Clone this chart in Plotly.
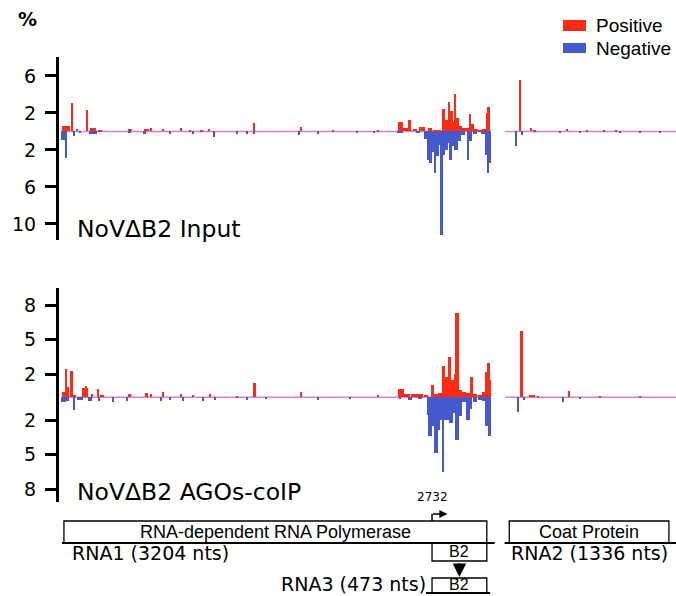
import plotly.graph_objects as go

W, H = 676, 596
RNA1_LEN = 3204
RNA2_LEN = 1336
RNA2_OFFSET = 3338          # where RNA2 track starts on the shared x axis (nt units)
X_RANGE = [-22, 4596]

RED = "#ff2a14"
BLUE = "#4559cf"

# ---------------- Input library (top panel) ----------------
# positive strand, RNA1
in_pos_r1_nt = [30, 75, 112, 187, 232, 284, 509, 636, 666, 756, 891, 958, 1048, 1100, 1437, 1789, 2028, 2365,
                2534, 2567, 2601, 2642, 2695, 2754, 2807, 2859, 2878, 2897, 2915, 2927, 2942, 2960, 2979, 3001,
                3031, 3054, 3073, 3099, 3129, 3159, 3181, 3192, 3200]
in_pos_r1_w = [60, 20, 15, 16, 45, 30, 30, 37, 15, 15, 22, 15, 22, 15, 19, 19, 15, 15,
               40, 40, 24, 36, 50, 30, 60, 22, 18, 22, 18, 14, 22, 18, 26, 26,
               26, 22, 18, 32, 26, 26, 17, 17, 12]
in_pos_r1_val = [0.6, 3.1, 0.3, 2.3, 0.4, 0.15, 0.3, 0.25, 0.4, 0.25, 0.4, 0.2, 0.2, 0.25, 0.9, 0.5, 0.15, 0.2,
                 1.0, 0.4, 1.25, 0.3, 0.5, 0.4, 0.2, 2.4, 1.2, 3.2, 2.2, 1.0, 4.1, 1.5, 0.6, 0.4,
                 0.4, 1.9, 0.8, 0.3, 0.2, 0.3, 2.0, 2.7, 1.6]
# positive strand, RNA2
in_pos_r2_nt = [90, 172, 202, 445, 591, 719, 808]
in_pos_r2_w = [19, 19, 22, 15, 15, 15, 15]
in_pos_r2_val = [5.6, 0.4, 0.1, 0.3, 0.12, 0.12, 0.08]
# negative strand, RNA1
in_neg_r1_nt = [15, 30, 90, 135, 232, 509, 621, 808, 981, 1138, 1310, 1385, 1437, 1774, 1916, 2208, 2335,
                2530, 2665, 2725, 2743, 2762, 2777, 2792, 2811, 2826, 2841, 2856, 2874, 2897, 2908, 2927,
                2949, 2972, 3001, 3039, 3057, 3091, 3151, 3174, 3189, 3200]
in_neg_r1_w = [37, 15, 15, 22, 60, 22, 22, 15, 15, 15, 15, 15, 15, 15, 15, 15, 15,
               45, 34, 26, 22, 22, 18, 22, 22, 14, 17, 18, 26, 18, 18, 26,
               26, 26, 34, 18, 26, 34, 34, 22, 17, 17]
in_neg_r1_val = [0.9, 2.9, 0.5, 0.2, 0.3, 0.2, 0.3, 0.3, 0.3, 0.6, 0.3, 0.3, 0.3, 0.4, 0.25, 0.2, 0.2,
                 0.2, 0.2, 0.8, 3.1, 3.4, 2.2, 4.5, 2.7, 1.5, 11.2, 2.5, 2.0, 1.2, 3.1, 1.6,
                 2.0, 1.0, 0.4, 3.1, 1.0, 0.3, 0.3, 2.5, 4.5, 3.4]
# negative strand, RNA2
in_neg_r2_nt = [60, 105, 389, 539, 838, 988, 1138]
in_neg_r2_w = [15, 15, 15, 15, 15, 15, 15]
in_neg_r2_val = [1.6, 0.4, 0.1, 0.1, 0.1, 0.1, 0.1]

# ---------------- AGOs-coIP library (bottom panel) ----------------
ip_pos_r1_nt = [15, 30, 49, 71, 97, 172, 180, 225, 269, 299, 509, 636, 666, 756, 891, 981, 1108, 1310, 1441,
                1789, 2365, 2537, 2582, 2635, 2680, 2725, 2773, 2799, 2829, 2859, 2878, 2900, 2923, 2942,
                2957, 2979, 3009, 3039, 3065, 3091, 3129, 3159, 3177, 3192, 3200]
ip_pos_r1_w = [22, 19, 15, 19, 22, 45, 15, 22, 15, 30, 22, 22, 15, 15, 22, 15, 22, 15, 19,
               19, 15, 40, 50, 50, 50, 34, 26, 34, 34, 22, 18, 26, 26, 18,
               24, 26, 34, 26, 22, 34, 34, 26, 17, 17, 17]
ip_pos_r1_val = [0.5, 2.5, 0.9, 2.3, 0.2, 0.8, 1.0, 0.3, 0.7, 0.2, 0.3, 0.35, 0.3, 0.45, 0.3, 0.2, 0.25, 0.15, 1.2,
                 0.45, 0.2, 0.7, 0.3, 0.3, 0.3, 0.2, 1.1, 0.3, 0.4, 2.7, 1.8, 3.5, 1.5, 2.0,
                 7.3, 0.6, 0.5, 0.4, 1.8, 0.3, 0.2, 0.5, 2.2, 3.0, 1.5]
ip_pos_r2_nt = [101, 180, 225, 457, 689, 988]
ip_pos_r2_w = [19, 45, 22, 19, 15, 15]
ip_pos_r2_val = [5.8, 0.2, 0.15, 0.55, 0.1, 0.08]
ip_neg_r1_nt = [15, 45, 90, 135, 210, 277, 382, 487, 741, 808, 906, 1055, 1145, 1385, 1527, 1916, 2156,
                2530, 2605, 2680, 2740, 2754, 2777, 2799, 2818, 2833, 2852, 2871, 2889, 2912, 2934, 2957,
                2983, 3009, 3039, 3061, 3091, 3129, 3159, 3177, 3189, 3200]
ip_neg_r1_w = [37, 22, 15, 45, 30, 15, 15, 15, 15, 15, 15, 15, 15, 15, 15, 15, 15,
               15, 34, 34, 18, 26, 18, 26, 18, 18, 22, 18, 22, 26, 18, 34,
               18, 26, 26, 18, 26, 26, 26, 17, 17, 17]
ip_neg_r1_val = [0.4, 0.3, 1.1, 0.2, 0.3, 0.3, 0.45, 0.3, 0.35, 0.25, 0.3, 0.3, 0.2, 0.2, 0.15, 0.2, 0.1,
                 0.15, 0.2, 0.15, 1.5, 3.4, 2.5, 4.8, 2.8, 2.0, 6.5, 2.0, 2.0, 2.2, 1.4, 3.7,
                 1.6, 0.4, 2.0, 1.0, 0.4, 0.2, 0.3, 2.5, 2.0, 3.4]
ip_neg_r2_nt = [75, 120, 412, 539]
ip_neg_r2_w = [19, 15, 15, 15]
ip_neg_r2_val = [1.3, 0.2, 0.4, 0.08]

# axis ticks
top_tickvals = [6, 2, -2, -6, -10]
top_ticktext = ["6", "2", "2", "6", "10"]
top_range = [-11.73, 8.05]
bot_tickvals = [8, 5, 2, -2, -5, -8]
bot_ticktext = ["8", "5", "2", "2", "5", "8"]
bot_range = [-9.10, 9.50]

# genome map (nt units on the shared axis)
RDRP_BOX = (15, 3180)
B2_BOX = (2770, 3180)
CP_BOX = (10, 1205)  # RNA2 coordinates
B2_START_LABEL = "2732"


def px_x(v):
    return v / W


def px_y(v):
    return 1 - v / H


def shift(lst, off):
    return [p + off for p in lst]


fig = go.Figure()


def add_bars(pos, w, val, color, sign, xa, ya):
    fig.add_trace(go.Bar(x=pos, y=[sign * v for v in val], width=w, marker=dict(color=color, line=dict(width=0)),
                         xaxis=xa, yaxis=ya, showlegend=False, hoverinfo="skip"))


# top panel
add_bars(in_neg_r1_nt + shift(in_neg_r2_nt, RNA2_OFFSET), in_neg_r1_w + in_neg_r2_w,
         in_neg_r1_val + in_neg_r2_val, BLUE, -1, "x", "y")
add_bars(in_pos_r1_nt + shift(in_pos_r2_nt, RNA2_OFFSET), in_pos_r1_w + in_pos_r2_w,
         in_pos_r1_val + in_pos_r2_val, RED, 1, "x", "y")
# bottom panel
add_bars(ip_neg_r1_nt + shift(ip_neg_r2_nt, RNA2_OFFSET), ip_neg_r1_w + ip_neg_r2_w,
         ip_neg_r1_val + ip_neg_r2_val, BLUE, -1, "x2", "y2")
add_bars(ip_pos_r1_nt + shift(ip_pos_r2_nt, RNA2_OFFSET), ip_pos_r1_w + ip_pos_r2_w,
         ip_pos_r1_val + ip_pos_r2_val, RED, 1, "x2", "y2")

tickfont = dict(family="DejaVu Sans", size=19, color="black")
yax_common = dict(showline=True, linewidth=3, linecolor="black", ticks="outside", ticklen=11, tickwidth=3,
                  tickcolor="black", showgrid=False, zeroline=False, tickfont=tickfont, ticklabelstandoff=5,
                  fixedrange=True)
xax_common = dict(visible=False, range=X_RANGE, domain=[px_x(59), 1], showgrid=False, zeroline=False)

fig.update_layout(
    width=W, height=H, autosize=False,
    margin=dict(l=0, r=0, t=0, b=0),
    paper_bgcolor="white", plot_bgcolor="white",
    barmode="overlay", bargap=0,
    xaxis=dict(**xax_common, anchor="y"),
    xaxis2=dict(**xax_common, anchor="y2"),
    yaxis=dict(**yax_common, domain=[px_y(240), px_y(57)], range=top_range,
               tickmode="array", tickvals=top_tickvals, ticktext=top_ticktext, anchor="x"),
    yaxis2=dict(**yax_common, domain=[px_y(502), px_y(288)], range=bot_range,
                tickmode="array", tickvals=bot_tickvals, ticktext=bot_ticktext, anchor="x2"),
)

shapes = []
# zero baselines
for xa, ya in (("x", "y"), ("x2", "y2")):
    shapes.append(dict(type="line", xref=xa, yref=ya, x0=0, x1=RNA1_LEN, y0=0, y1=0,
                       line=dict(color="rgba(205,110,190,0.85)", width=1.5), layer="below"))
    shapes.append(dict(type="line", xref=xa, yref=ya, x0=RNA2_OFFSET - 20, x1=RNA2_OFFSET + RNA2_LEN, y0=0, y1=0,
                       line=dict(color="rgba(205,110,190,0.85)", width=1.5), layer="below"))

# genome map
LW = 1.3
shapes.append(dict(type="rect", xref="x2", yref="paper", x0=RDRP_BOX[0], x1=RDRP_BOX[1],
                   y0=px_y(543), y1=px_y(521), line=dict(color="black", width=LW)))
shapes.append(dict(type="line", xref="x2", yref="paper", x0=0, x1=RNA1_LEN + 35,
                   y0=px_y(543), y1=px_y(543), line=dict(color="black", width=2)))
shapes.append(dict(type="rect", xref="x2", yref="paper", x0=B2_BOX[0], x1=B2_BOX[1],
                   y0=px_y(561), y1=px_y(543), line=dict(color="black", width=LW)))
shapes.append(dict(type="rect", xref="x2", yref="paper", x0=B2_BOX[0], x1=B2_BOX[1],
                   y0=px_y(593), y1=px_y(578), line=dict(color="black", width=LW)))
shapes.append(dict(type="line", xref="x2", yref="paper", x0=B2_BOX[0] - 45, x1=B2_BOX[1] + 25,
                   y0=px_y(593), y1=px_y(593), line=dict(color="black", width=2)))
shapes.append(dict(type="rect", xref="x2", yref="paper", x0=RNA2_OFFSET + CP_BOX[0], x1=RNA2_OFFSET + CP_BOX[1],
                   y0=px_y(543), y1=px_y(521), line=dict(color="black", width=LW)))
shapes.append(dict(type="line", xref="x2", yref="paper", x0=RNA2_OFFSET - 25, x1=RNA2_OFFSET + RNA2_LEN,
                   y0=px_y(543), y1=px_y(543), line=dict(color="black", width=2)))
# bent promoter arrow (vertical part)
shapes.append(dict(type="line", xref="x2", yref="paper", x0=B2_BOX[0], x1=B2_BOX[0],
                   y0=px_y(521), y1=px_y(514), line=dict(color="black", width=1.5)))
# legend swatches
shapes.append(dict(type="rect", xref="paper", yref="paper", x0=px_x(563), x1=px_x(586),
                   y0=px_y(31), y1=px_y(20), fillcolor=RED, line=dict(width=0)))
shapes.append(dict(type="rect", xref="paper", yref="paper", x0=px_x(563), x1=px_x(586),
                   y0=px_y(53), y1=px_y(43), fillcolor=BLUE, line=dict(width=0)))
fig.update_layout(shapes=shapes)

ann = []
verd = "DejaVu Sans"
arial = "Liberation Sans"


def txt(text, x, y, size, family, xanchor="left", xref="paper", color="black"):
    ann.append(dict(text=text, x=x, y=y, xref=xref, yref="paper", xanchor=xanchor, yanchor="middle",
                    showarrow=False, font=dict(family=family, size=size, color=color)))


txt("<b>%</b>", px_x(16), px_y(19), 19, verd)
txt("Positive", px_x(594), px_y(26), 19, arial)
txt("Negative", px_x(594), px_y(48.5), 19, arial)
txt("NoVΔB2 Input", px_x(75), px_y(229), 23.5, verd)
txt("NoVΔB2 AGOs-coIP", px_x(75), px_y(492), 23.5, verd)
txt(B2_START_LABEL, B2_BOX[0], px_y(497), 12, verd, xanchor="center", xref="x2")
txt("RNA-dependent RNA Polymerase", (RDRP_BOX[0] + RDRP_BOX[1]) / 2, px_y(532), 18, arial, xanchor="center", xref="x2")
txt("Coat Protein", RNA2_OFFSET + (CP_BOX[0] + CP_BOX[1]) / 2, px_y(532), 18, arial, xanchor="center", xref="x2")
txt("RNA1 (3204 nts)", px_x(70), px_y(553), 19, verd)
txt("RNA2 (1336 nts)", px_x(509), px_y(553), 19, verd)
txt("B2", (B2_BOX[0] + B2_BOX[1]) / 2, px_y(551), 16, arial, xanchor="center", xref="x2")
txt("B2", (B2_BOX[0] + B2_BOX[1]) / 2, px_y(584.5), 16, arial, xanchor="center", xref="x2")
txt("RNA3 (473 nts)", B2_BOX[0] - 30, px_y(584), 19, verd, xanchor="right", xref="x2")

# arrows
ann.append(dict(x=B2_BOX[0] + 115, y=px_y(514), xref="x2", yref="paper", ax=-16, ay=0, axref="pixel", ayref="pixel",
                text="", showarrow=True, arrowhead=2, arrowsize=1, arrowwidth=1.6, arrowcolor="black"))
ann.append(dict(x=(B2_BOX[0] + B2_BOX[1]) / 2, y=px_y(577), xref="x2", yref="paper", ax=0, ay=-15,
                text="", showarrow=True, arrowhead=2, arrowsize=0.9, arrowwidth=3, arrowcolor="black"))
fig.update_layout(annotations=ann)

fig.write_html("out.html")
